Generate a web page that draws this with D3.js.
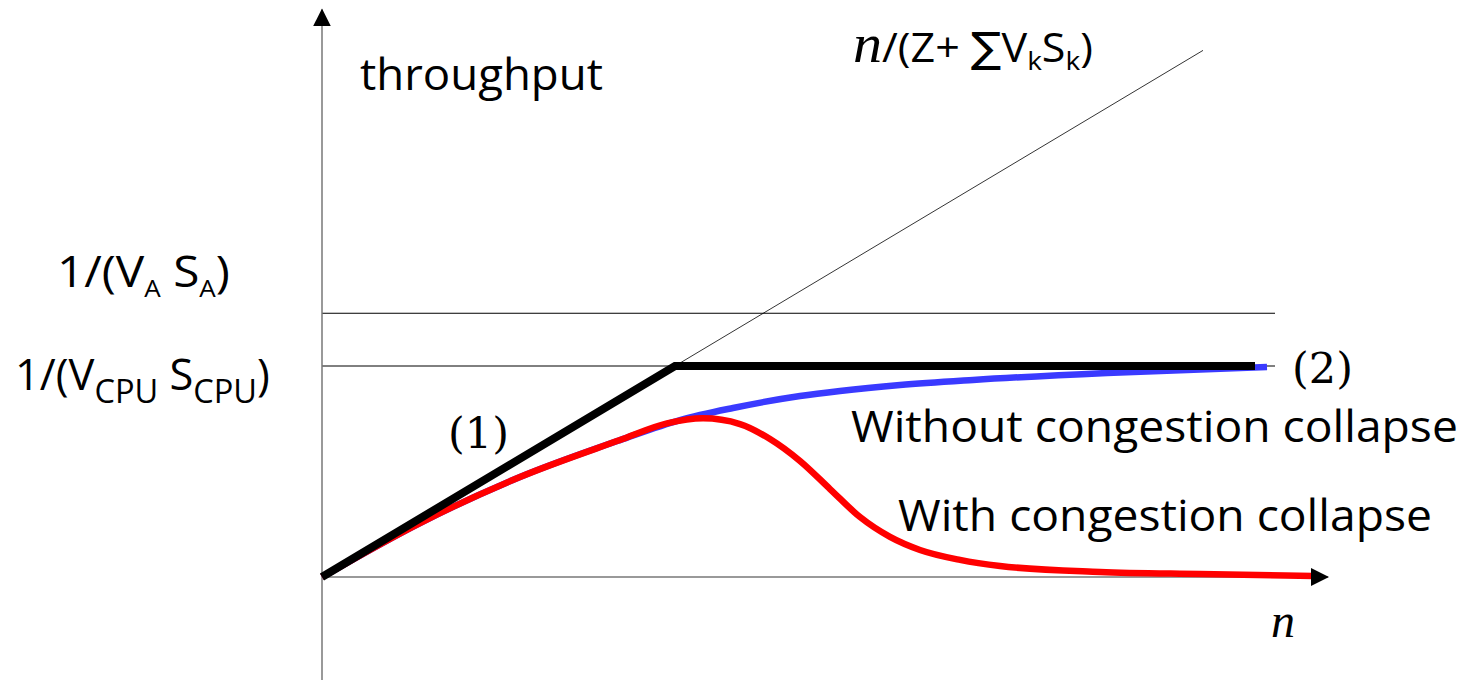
<!DOCTYPE html>
<html>
<head>
<meta charset="utf-8">
<script src="https://cdn.jsdelivr.net/npm/d3@7"></script>
<style>
  body { margin: 0; background: #fff; }
  .lbl { font-family: "Open Sans", sans-serif; fill: #000; }
  .math { font-family: "Liberation Serif", "DejaVu Serif", serif; fill: #000; }
  .num { font-family: "DejaVu Serif", serif; fill: #000; }
</style>
</head>
<body>
<div id="chart"></div>
<script>
// --- data (n in arbitrary units, throughput normalised to 1/(V_CPU S_CPU)) ---
const nEnd = 10;            // end of n axis
const kneeN = 3.53;         // where n/(Z+sum) meets the CPU bound
const boundA = 1.25;        // 1/(V_A S_A)
const boundCPU = 1.0;       // 1/(V_CPU S_CPU)
const boundLineEnd = 9.53;  // thin bound lines stop here
const boundBoldEnd = 9.33;  // bold asymptote stops here
const diagEnd = 8.81;       // thin n/(Z+...) line stops here

const blueN = [0, 0.98, 1.98, 2.98, 3.58, 4.11, 4.78, 5.18, 5.78, 6.51, 7.85, 9.45];
const blueT = [0, 0.256, 0.474, 0.649, 0.744, 0.801, 0.858, 0.882, 0.910, 0.934, 0.967, 0.995];

const redN = [0, 0.98, 1.98, 2.98, 3.45, 3.81, 4.18, 4.48, 4.78, 5.08, 5.38, 5.68, 5.98, 6.38, 6.78, 7.78, 8.78, 9.91];
const redT = [0, 0.256, 0.474, 0.649, 0.728, 0.752, 0.725, 0.654, 0.550, 0.417, 0.284, 0.190, 0.128, 0.081, 0.052, 0.024, 0.014, 0.005];

const W = 1463, H = 680;

const svg = d3.select("#chart").append("svg")
  .attr("width", W).attr("height", H);

const x = d3.scaleLinear().domain([0, 10]).range([322, 1322]);
const y = d3.scaleLinear().domain([0, 1]).range([577, 366]);

// arrow heads
const defs = svg.append("defs");
defs.append("marker")
  .attr("id", "arrow")
  .attr("markerUnits", "userSpaceOnUse")
  .attr("viewBox", "0 0 18 18")
  .attr("refX", 17).attr("refY", 9)
  .attr("markerWidth", 18).attr("markerHeight", 18)
  .attr("orient", "auto")
  .append("path")
  .attr("d", "M0,0 L18,9 L0,18 Z")
  .attr("fill", "#000");

const line = d3.line().x(d => x(d[0])).y(d => y(d[1]));

// thin bound lines
svg.selectAll("line.bound")
  .data([boundA, boundCPU])
  .join("line")
  .attr("class", "bound")
  .attr("x1", x(0)).attr("x2", x(boundLineEnd))
  .attr("y1", d => y(d)).attr("y2", d => y(d))
  .attr("stroke", "#000").attr("stroke-width", 1);

// thin n/(Z+sum) line
svg.append("path")
  .attr("d", line([[0, 0], [diagEnd, diagEnd / kneeN]]))
  .attr("fill", "none").attr("stroke", "#000").attr("stroke-width", 0.8);

// axes
const gAxes = svg.append("g");
gAxes.append("line")
  .attr("x1", x(0)).attr("x2", x(0))
  .attr("y1", y(-0.49)).attr("y2", y(2.69))
  .attr("stroke", "#777").attr("stroke-width", 1.5);
gAxes.append("line")
  .attr("x1", x(0)).attr("x2", x(nEnd + 0.06))
  .attr("y1", y(0)).attr("y2", y(0))
  .attr("stroke", "#777").attr("stroke-width", 1.5);

// curves
const curve = d3.line().x(d => x(d[0])).y(d => y(d[1])).curve(d3.curveMonotoneX);

svg.append("path")
  .attr("d", curve(d3.zip(blueN, blueT)))
  .attr("fill", "none").attr("stroke", "#3a3aff").attr("stroke-width", 6.5);

svg.append("path")
  .attr("d", curve(d3.zip(redN, redT)))
  .attr("fill", "none").attr("stroke", "#ff0000").attr("stroke-width", 6.5);

svg.append("path")
  .attr("d", line([[0, 0], [kneeN, boundCPU], [boundBoldEnd, boundCPU]]))
  .attr("fill", "none").attr("stroke", "#000").attr("stroke-width", 8)
  .attr("stroke-linejoin", "miter");

// arrow heads drawn on top
svg.append("line")
  .attr("x1", x(0)).attr("x2", x(0))
  .attr("y1", y(2.5)).attr("y2", y(2.69))
  .attr("stroke", "none").attr("marker-end", "url(#arrow)");
svg.append("line")
  .attr("x1", x(nEnd - 0.2)).attr("x2", x(nEnd + 0.06))
  .attr("y1", y(0)).attr("y2", y(0))
  .attr("stroke", "none").attr("marker-end", "url(#arrow)");

// helper: squeeze a label horizontally to span [x0, x1]
function fit(sel, x0, x1) {
  const w = sel.node().getBBox().width;
  const sx = (x1 - x0) / w;
  sel.attr("transform", `translate(${x0},0) scale(${sx},1) translate(${-x0},0)`);
}

// labels
const t1 = svg.append("text").attr("class", "lbl")
  .attr("x", 360).attr("y", 90).attr("font-size", 44).text("throughput");
fit(t1, 360, 603);

const t2 = svg.append("text").attr("class", "lbl").attr("x", 853).attr("y", 62).attr("font-size", 40);
t2.append("tspan").attr("class", "math").attr("font-style", "italic").attr("font-size", 54).text("n");
t2.append("tspan").text("/(Z+ ");
t2.append("tspan").attr("font-family", "DejaVu Sans").attr("font-size", 42).text("\u2211");
t2.append("tspan").text("V");
t2.append("tspan").attr("font-size", 26).attr("dy", 8).text("k");
t2.append("tspan").attr("dy", -8).text("S");
t2.append("tspan").attr("font-size", 26).attr("dy", 8).text("k");
t2.append("tspan").attr("dy", -8).text(")");
fit(t2, 853, 1093);

const t3 = svg.append("text").attr("class", "lbl").attr("x", 57).attr("y", 287).attr("font-size", 44);
t3.append("tspan").text("1/(V");
t3.append("tspan").attr("font-size", 24).attr("dy", 10).text("A");
t3.append("tspan").attr("dy", -10).text(" S");
t3.append("tspan").attr("font-size", 24).attr("dy", 10).text("A");
t3.append("tspan").attr("dy", -10).text(")");
fit(t3, 57, 230);

const t4 = svg.append("text").attr("class", "lbl").attr("x", 15).attr("y", 390).attr("font-size", 44);
t4.append("tspan").text("1/(V");
t4.append("tspan").attr("font-size", 33).attr("dy", 13).text("CPU");
t4.append("tspan").attr("dy", -13).text(" S");
t4.append("tspan").attr("font-size", 33).attr("dy", 13).text("CPU");
t4.append("tspan").attr("dy", -13).text(")");
fit(t4, 15, 270);

const t5 = svg.append("text").attr("class", "lbl")
  .attr("x", 851).attr("y", 442).attr("font-size", 44).text("Without congestion collapse");
fit(t5, 851, 1458);

const t6 = svg.append("text").attr("class", "lbl")
  .attr("x", 898).attr("y", 531).attr("font-size", 44).text("With congestion collapse");
fit(t6, 898, 1432);

svg.append("text").attr("class", "num")
  .attr("x", 448).attr("y", 448).attr("font-size", 43).text("(1)");
svg.append("text").attr("class", "num")
  .attr("x", 1292).attr("y", 383).attr("font-size", 43).text("(2)");
svg.append("text").attr("class", "math").attr("font-style", "italic")
  .attr("x", 1271).attr("y", 637).attr("font-size", 48).text("n");
</script>
</body>
</html>
